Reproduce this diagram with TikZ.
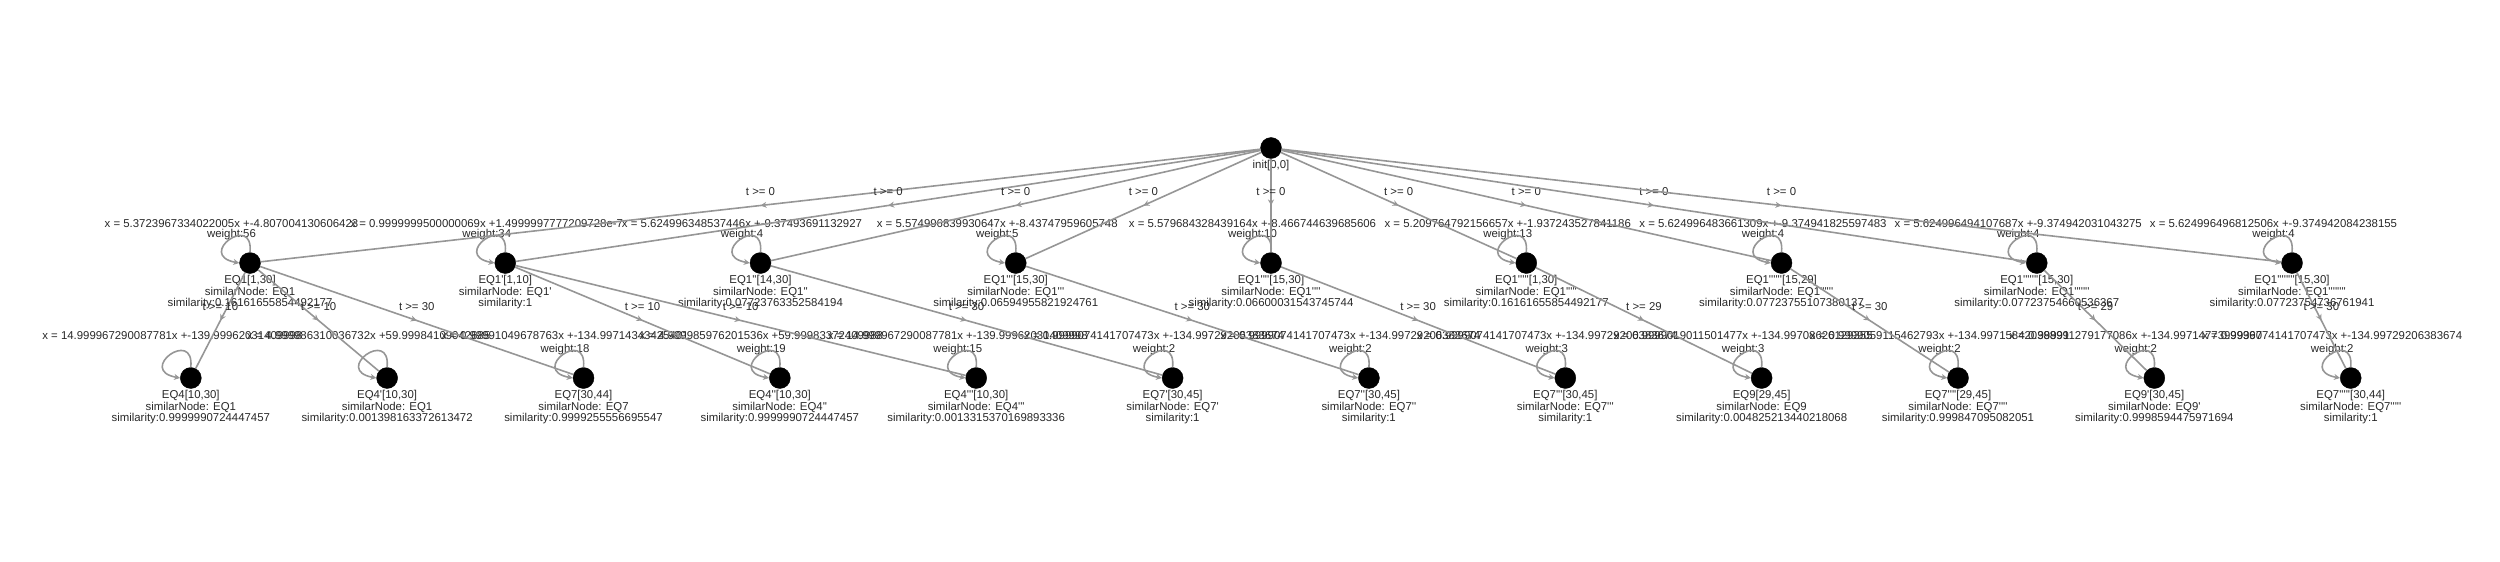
\documentclass[tikz,border=0pt]{standalone}
\usepackage{fontspec}
\newfontfamily\labfont{Liberation Sans}
\usetikzlibrary{arrows.meta,decorations.markings}
\definecolor{edgec}{RGB}{150,150,150}
\definecolor{txtc}{RGB}{40,40,40}
\newcommand\pq{\XeTeXglyph\XeTeXcharglyph"27\relax}
\newcommand\pr[1]{\foreach \i in {1,...,#1}{\pq}}
\tikzset{
  statedot/.style={circle, fill=black, draw=black, minimum size=21pt, inner sep=0pt},
  txt/.style={font=\labfont\fontsize{11.4}{11.5}\selectfont, text=txtc, inner sep=0pt, anchor=base},
  conn/.style={draw=edgec, line width=1.6pt, postaction={decorate},
    decoration={markings, mark=at position 0.5 with {\arrow[edgec]{Stealth[length=6pt,width=6pt]}}}},
  loopedge/.style={draw=edgec, line width=1.6pt, -{Stealth[length=6pt,width=6pt]}},
}
\def\eqdy{36pt}
% name, x, y, equation, weight, id, similar node, similarity
\newcommand\st[8]{%
  \node[statedot] (#1) at (#2,#3) {};
  \node[txt] (#1-eq) at ([xshift=-18.5pt,yshift=\eqdy]#1.center) {#4};
  \if\relax\detokenize{#5}\relax\else
    \node[txt] (#1-w) at ([xshift=-18.5pt,yshift=25.5pt]#1.center) {#5};
  \fi
  \node[txt] (#1-a) at ([yshift=-20.5pt]#1.center) {#6};
  \node[txt] (#1-b) at ([yshift=-32pt]#1.center) {similarNode: #7};
  \node[txt] (#1-c) at ([yshift=-43.5pt]#1.center) {similarity:#8};
  \draw[loopedge] (#1.north) .. controls +(4,-40) and +(-44,-8) .. (#1.west);
}
\begin{document}
\begin{tikzpicture}[x=1pt,y=-1pt]
\useasboundingbox (0,0) rectangle (2500,562);
% root
\node[statedot] (root) at (1271,148) {};
\node[txt] (root-a) at ([yshift=-20pt]root.center) {init[0,0]};
% layer 1
\def\eqdy{36pt}
\st{a1}{250}{263}{x = 5.3723967334022005x +-4.807004130606423}{weight:56}{EQ1[1,30]}{EQ1}{0.16161655854492177}
\st{a2}{505.25}{263}{x = 0.9999999500000069x +1.4999997777209728e-7}{weight:34}{EQ1\pr{1}[1,10]}{EQ1\pr{1}}{1}
\st{a3}{760.5}{263}{x = 5.624996348537446x +-9.37493691132927}{weight:4}{EQ1\pr{2}[14,30]}{EQ1\pr{2}}{0.07723763352584194}
\st{a4}{1015.75}{263}{x = 5.574996839930647x +-8.43747959605748}{weight:5}{EQ1\pr{3}[15,30]}{EQ1\pr{3}}{0.06594955821924761}
\st{a5}{1271}{263}{x = 5.579684328439164x +-8.466744639685606}{weight:10}{EQ1\pr{4}[15,30]}{EQ1\pr{4}}{0.06600031543745744}
\st{a6}{1526.25}{263}{x = 5.209764792156657x +-1.937243527841186}{weight:13}{EQ1\pr{5}[1,30]}{EQ1\pr{5}}{0.16161655854492177}
\st{a7}{1781.5}{263}{x = 5.624996483661309x +-9.374941825597483}{weight:4}{EQ1\pr{6}[15,29]}{EQ1\pr{6}}{0.07723755107380137}
\st{a8}{2036.75}{263}{x = 5.624996494107687x +-9.374942031043275}{weight:4}{EQ1\pr{7}[15,30]}{EQ1\pr{7}}{0.07723754660536367}
\st{a9}{2292}{263}{x = 5.624996496812506x +-9.374942084238155}{weight:4}{EQ1\pr{8}[15,30]}{EQ1\pr{8}}{0.07723754736761941}
% layer 2
\def\eqdy{38.5pt}
\st{b1}{190.8}{378}{x = 14.999967290087781x +-139.99962031409998}{}{EQ4[10,30]}{EQ1}{0.9999990724447457}
\st{b2}{387.1}{378}{x = 4.999986310036732x +59.99984109042685}{}{EQ4\pr{1}[10,30]}{EQ1}{0.001398163372613472}
\st{b3}{583.5}{378}{x = 0.99991049678763x +-134.99714343425401}{weight:18}{EQ7[30,44]}{EQ7}{0.9999255556695547}
\st{b4}{779.8}{378}{x = 4.999985976201536x +59.99983372409988}{weight:19}{EQ4\pr{2}[10,30]}{EQ4\pr{2}}{0.9999990724447457}
\st{b5}{976.2}{378}{x = 14.999967290087781x +-139.99962031409998}{weight:15}{EQ4\pr{3}[10,30]}{EQ4\pr{3}}{0.0013315370169893336}
\st{b6}{1172.6}{378}{x = 0.9999074141707473x +-134.99729206383674}{weight:2}{EQ7\pr{1}[30,45]}{EQ7\pr{1}}{1}
\st{b7}{1368.9}{378}{x = 0.9999074141707473x +-134.99729206383674}{weight:2}{EQ7\pr{2}[30,45]}{EQ7\pr{2}}{1}
\st{b8}{1565.3}{378}{x = 0.9999074141707473x +-134.99729206383674}{weight:3}{EQ7\pr{3}[30,45]}{EQ7\pr{3}}{1}
\st{b9}{1761.6}{378}{x = 0.9999019011501477x +-134.99708626129355}{weight:3}{EQ9[29,45]}{EQ9}{0.004825213440218068}
\st{b10}{1958.0}{378}{x = 0.9999059115462793x +-134.99715842038899}{weight:2}{EQ7\pr{4}[29,45]}{EQ7\pr{4}}{0.999847095082051}
\st{b11}{2154.3}{378}{x = 0.999911279177086x +-134.99714773999367}{weight:2}{EQ9\pr{1}[30,45]}{EQ9\pr{1}}{0.9998594475971694}
\st{b12}{2350.7}{378}{x = 0.9999074141707473x +-134.99729206383674}{weight:2}{EQ7\pr{5}[30,44]}{EQ7\pr{5}}{1}
% edges root -> layer 1
\foreach \t in {a1,a2,a3,a4,a5,a6,a7,a8,a9}{
  \draw[conn] (root) -- (\t) node[txt, midway, yshift=10.5pt] (lab-\t) {t >= 0};
}
% edges layer 1 -> layer 2
\draw[conn] (a1) -- (b1) node[txt, midway, yshift=10.5pt] (lab-b1) {t >= 10};
\draw[conn] (a1) -- (b2) node[txt, midway, yshift=10.5pt] (lab-b2) {t >= 10};
\draw[conn] (a1) -- (b3) node[txt, midway, yshift=10.5pt] (lab-b3) {t >= 30};
\draw[conn] (a2) -- (b4) node[txt, midway, yshift=10.5pt] (lab-b4) {t >= 10};
\draw[conn] (a2) -- (b5) node[txt, midway, yshift=10.5pt] (lab-b5) {t >= 10};
\draw[conn] (a3) -- (b6) node[txt, midway, yshift=10.5pt] (lab-b6) {t >= 30};
\draw[conn] (a4) -- (b7) node[txt, midway, yshift=10.5pt] (lab-b7) {t >= 30};
\draw[conn] (a5) -- (b8) node[txt, midway, yshift=10.5pt] (lab-b8) {t >= 30};
\draw[conn] (a6) -- (b9) node[txt, midway, yshift=10.5pt] (lab-b9) {t >= 29};
\draw[conn] (a7) -- (b10) node[txt, midway, yshift=10.5pt] (lab-b10) {t >= 30};
\draw[conn] (a8) -- (b11) node[txt, midway, yshift=10.5pt] (lab-b11) {t >= 29};
\draw[conn] (a9) -- (b12) node[txt, midway, yshift=10.5pt] (lab-b12) {t >= 30};
\end{tikzpicture}
\end{document}
